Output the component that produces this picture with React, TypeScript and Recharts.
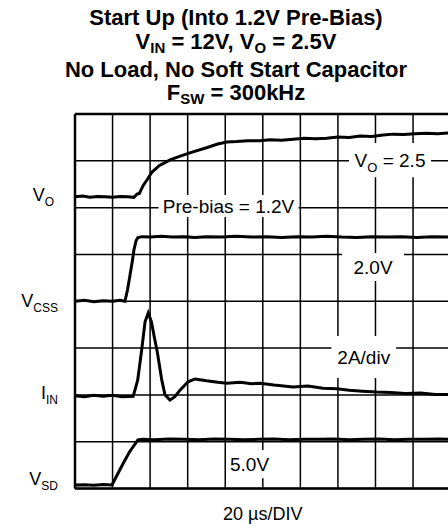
import React from 'react';
import { LineChart, Line, XAxis, YAxis, CartesianGrid, ReferenceArea, ReferenceLine } from 'recharts';

// horizontal: microseconds, 20 us per division, 10 divisions
const timeTicks = [0, 20, 40, 60, 80, 100, 120, 140, 160, 180, 200];
// vertical: screen divisions, 8 of them
const divTicks = [0, 1, 2, 3, 4, 5, 6, 7, 8];

// V_O trace (divisions)
const voTime = [0, 4, 8, 12, 16, 20, 24, 28, 31.4, 33, 34.2, 36.4, 38.5, 41, 45, 50.6, 56, 62.8, 70, 76, 80.9, 86, 92, 98.5, 104, 110, 116.2, 122, 128, 134, 140, 146, 151.8, 158, 164, 169.5, 175, 181, 187.3, 193, 200];
const voLevel = [6.23, 6.25, 6.22, 6.24, 6.23, 6.22, 6.24, 6.23, 6.22, 6.29, 6.3, 6.48, 6.6, 6.76, 6.9, 7.02, 7.1, 7.19, 7.28, 7.36, 7.4, 7.41, 7.43, 7.43, 7.45, 7.44, 7.46, 7.48, 7.47, 7.48, 7.51, 7.5, 7.53, 7.52, 7.55, 7.57, 7.56, 7.58, 7.59, 7.58, 7.6];

// V_CSS trace
const cssTime = [0, 5, 10, 15, 20, 24, 26.6, 28, 29.3, 30.5, 31.4, 32.5, 33.5, 35.7, 40, 46, 52, 58, 64, 70, 78, 86, 94, 102, 110, 118, 126, 134, 142, 150, 158, 166, 174, 182, 190, 200];
const cssLevel = [4.0, 4.02, 3.99, 4.01, 4.0, 4.02, 4.0, 4.25, 4.56, 4.85, 5.1, 5.29, 5.36, 5.38, 5.37, 5.39, 5.37, 5.38, 5.36, 5.38, 5.37, 5.39, 5.37, 5.38, 5.36, 5.38, 5.37, 5.39, 5.37, 5.36, 5.38, 5.37, 5.38, 5.36, 5.38, 5.37];

// I_IN trace
const iinTime = [0, 5, 10, 15, 20, 25, 31, 33.4, 35.5, 37.3, 39, 40.7, 42.3, 43.8, 46.2, 47.9, 50.6, 53.2, 55.9, 60.2, 63.9, 70, 76, 80.9, 88, 94, 98.5, 106, 116.1, 124, 132, 139.5, 146, 153, 160.8, 168, 176, 184, 192, 200];
const iinLevel = [1.98, 1.96, 1.99, 1.97, 1.99, 1.96, 1.97, 2.32, 2.96, 3.56, 3.75, 3.56, 3.22, 2.92, 2.32, 2.0, 1.89, 1.96, 2.1, 2.28, 2.34, 2.3, 2.27, 2.25, 2.27, 2.24, 2.25, 2.21, 2.17, 2.19, 2.14, 2.13, 2.1, 2.08, 2.06, 2.05, 2.03, 2.04, 2.01, 2.01];

// V_SD trace
const sdTime = [0, 5, 10, 15, 19.7, 23, 25.7, 29, 33.5, 36, 42, 50, 58, 66, 74, 82, 90, 98, 106, 114, 122, 130, 138, 146, 154, 162, 170, 178, 186, 194, 200];
const sdLevel = [0.075, 0.08, 0.07, 0.085, 0.075, 0.33, 0.54, 0.78, 1.04, 1.05, 1.04, 1.06, 1.05, 1.04, 1.06, 1.05, 1.04, 1.05, 1.06, 1.04, 1.05, 1.05, 1.06, 1.04, 1.05, 1.06, 1.04, 1.05, 1.05, 1.06, 1.05];

// channel names on the left
const channelNames = ['V', 'V', 'I', 'V'];
const channelSubs = ['O', 'CSS', 'IN', 'SD'];
const channelLevels = [6.27, 4.0, 2.03, 0.2];

const xLabel = '20 \u00b5s/DIV';

const FONT = '"Liberation Sans", Arial, Helvetica, sans-serif';

const toPoints = (time: number[], level: number[]) => time.map((t, i) => ({ t, v: level[i] }));

const traces = [
  toPoints(voTime, voLevel),
  toPoints(cssTime, cssLevel),
  toPoints(iinTime, iinLevel),
  toPoints(sdTime, sdLevel),
];

// white boxes with text that sit on the graticule
const notes = [
  { x1: 145.9, x2: 189.6, y1: 6.65, y2: 7.38, main: 'V', sub: 'O', rest: ' = 2.5' },
  { x1: 44.5, x2: 119, y1: 5.8, y2: 6.27, main: 'Pre-bias = 1.2V', sub: '', rest: '' },
  { x1: 142.2, x2: 175.2, y1: 4.43, y2: 5.03, main: '2.0V', sub: '', rest: '' },
  { x1: 136.5, x2: 171, y1: 2.36, y2: 3.26, main: '2A/div', sub: '', rest: '' },
  { x1: 81.5, x2: 104.4, y1: 0.22, y2: 0.82, main: '5.0V', sub: '', rest: '' },
];

const NoteLabel = (props: any) => {
  const { viewBox, main, sub, rest } = props;
  const cx = viewBox.x + viewBox.width / 2;
  const cy = viewBox.y + viewBox.height / 2;
  return (
    <text x={cx} y={cy + 7} textAnchor="middle" fontSize={19} fontFamily={FONT} fill="#000">
      {main}
      {sub && <tspan dy={5} fontSize={13}>{sub}</tspan>}
      {rest && <tspan dy={-5}>{rest}</tspan>}
    </text>
  );
};

const ChannelTick = (props: any) => {
  const i = channelLevels.indexOf(props.payload.value);
  if (i < 0) return null;
  return (
    <text x={i === 0 ? 54 : 58} y={props.y + 6} textAnchor="end" fontSize={18} fontFamily={FONT} fill="#000">
      {channelNames[i]}
      <tspan dy={5} fontSize={12}>{channelSubs[i]}</tspan>
    </text>
  );
};

const NoTick = () => <g />;

export default function App() {
  return (
    <div style={{ position: 'relative', width: 448, height: 531, overflow: 'hidden', background: '#fff' }}>
      <style>{'body{margin:0;overflow:hidden}'}</style>
      <svg width={448} height={110} style={{ position: 'absolute', left: 0, top: 0 }}>
        <g fontFamily={FONT} fontWeight="bold" fontSize={22} fill="#000" textAnchor="middle">
          <text x={236} y={25}>Start Up (Into 1.2V Pre-Bias)</text>
          <text x={236} y={49}>
            V<tspan dy={4} fontSize={15}>IN</tspan>
            <tspan dy={-4}> = 12V, V</tspan>
            <tspan dy={4} fontSize={15}>O</tspan>
            <tspan dy={-4}> = 2.5V</tspan>
          </text>
          <text x={236} y={76.5}>No Load, No Soft Start Capacitor</text>
          <text x={236} y={99.5}>
            F<tspan dy={4} fontSize={15}>SW</tspan>
            <tspan dy={-4}> = 300kHz</tspan>
          </text>
        </g>
      </svg>
      <div style={{ position: 'absolute', left: 0, top: 0 }}>
        <LineChart width={458} height={531} margin={{ top: 114, right: 7.4, left: 0, bottom: 0.5 }}>
          <CartesianGrid
            stroke="#000"
            strokeWidth={1.5}
            horizontalValues={divTicks}
            verticalValues={timeTicks}
          />
          <XAxis
            type="number"
            dataKey="t"
            domain={[0, 200]}
            ticks={timeTicks}
            tick={<NoTick />}
            tickLine={false}
            height={42}
            axisLine={false}
            label={{ value: xLabel, position: 'insideBottom', offset: 10.5, fill: '#000', fontSize: 18, fontFamily: FONT }}
          />
          <YAxis
            type="number"
            domain={[0, 8]}
            ticks={channelLevels}
            tick={<ChannelTick />}
            tickLine={false}
            width={75}
            axisLine={false}
          />
          <ReferenceLine x={0} stroke="#000" strokeWidth={2.5} ifOverflow="visible" />
          <ReferenceLine y={0} stroke="#000" strokeWidth={2.5} ifOverflow="visible" />
          <ReferenceLine y={8} stroke="#000" strokeWidth={2.5} ifOverflow="visible" />
          {notes.map((n, i) => (
            <ReferenceArea
              key={i}
              x1={n.x1}
              x2={n.x2}
              y1={n.y1}
              y2={n.y2}
              fill="#fff"
              fillOpacity={1}
              stroke="none"
              ifOverflow="visible"
              label={<NoteLabel main={n.main} sub={n.sub} rest={n.rest} />}
            />
          ))}
          {traces.map((d, i) => (
            <Line
              key={i}
              data={d}
              dataKey="v"
              type="linear"
              stroke="#000"
              strokeWidth={3}
              dot={false}
              isAnimationActive={false}
            />
          ))}
        </LineChart>
      </div>
    </div>
  );
}
